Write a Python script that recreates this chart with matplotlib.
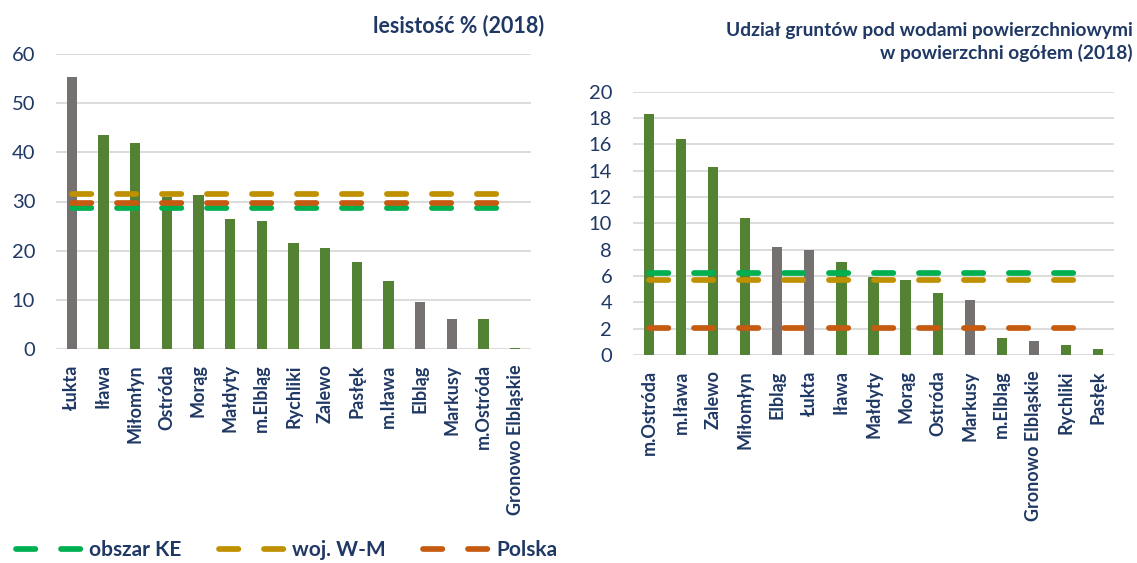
import matplotlib.pyplot as plt
from matplotlib.lines import Line2D

plt.rcParams['font.family'] = ['Lato', 'DejaVu Sans']

NAVY = '#1F3864'
BAR_GREEN = '#548235'
BAR_GREY = '#767171'
GRID = '#D9D9D9'
C_KE = '#00B050'
C_WM = '#BF9000'
C_PL = '#C55A11'

# lesistość % (2018)
forest_units = ['Łukta', 'Iława', 'Miłomłyn', 'Ostróda', 'Morąg', 'Małdyty', 'm.Elbląg',
                'Rychliki', 'Zalewo', 'Pasłęk', 'm.Iława', 'Elbląg', 'Markusy',
                'm.Ostróda', 'Gronowo Elbląskie']
forest_values = [55.3, 43.6, 41.8, 31.0, 31.3, 26.4, 26.1, 21.6, 20.6, 17.7, 13.8, 9.6, 6.1, 6.1, 0.3]
forest_grey = ['Łukta', 'Elbląg', 'Markusy']
forest_ke = 28.6
forest_wm = 31.5
forest_pl = 29.6

# udział gruntów pod wodami (2018)
water_units = ['m.Ostróda', 'm.Iława', 'Zalewo', 'Miłomłyn', 'Elbląg', 'Łukta', 'Iława',
               'Małdyty', 'Morąg', 'Ostróda', 'Markusy', 'm.Elbląg', 'Gronowo Elbląskie',
               'Rychliki', 'Pasłęk']
water_values = [18.3, 16.4, 14.3, 10.4, 8.2, 8.0, 7.1, 5.9, 5.7, 4.7, 4.2, 1.3, 1.05, 0.75, 0.45]
water_grey = ['Elbląg', 'Łukta', 'Markusy', 'Gronowo Elbląskie']
water_ke = 6.24
water_wm = 5.66
water_pl = 2.05

ref_labels = ['obszar KE', 'woj. W-M', 'Polska']
ref_colors = [C_KE, C_WM, C_PL]
DASH = (0, (3.4, 4.5))
LW = 4.1


def draw_panel(ax, units, values, grey, refs, ymax, step):
    x = list(range(len(units)))
    colors = [BAR_GREY if u in grey else BAR_GREEN for u in units]
    ax.bar(x, values, width=0.32, color=colors, zorder=2)
    for val, col in zip(refs, ref_colors):
        ax.plot([x[0], x[-1]], [val, val], color=col, lw=LW, linestyle=DASH,
                dash_capstyle='round', zorder=3)
    ax.set_xlim(-0.5, len(units) - 0.5)
    ax.set_ylim(0, ymax)
    ax.set_yticks(range(0, ymax + 1, step))
    ax.set_xticks(x)
    ax.set_xticklabels(units, rotation=90, fontsize=13, fontweight='bold', color=NAVY)
    ax.tick_params(axis='x', length=0, pad=11)
    ax.tick_params(axis='y', length=0, pad=15, labelsize=14.5, labelcolor=NAVY)
    ax.yaxis.grid(True, color=GRID, lw=1.3, zorder=0)
    ax.set_axisbelow(True)
    for s in ['top', 'right', 'left', 'bottom']:
        ax.spines[s].set_visible(False)


fig = plt.figure(figsize=(11.37, 5.63), dpi=100)

ax1 = fig.add_axes([56 / 1137, 214 / 563, 475 / 1137, 295 / 563])
draw_panel(ax1, forest_units, forest_values, forest_grey,
           [forest_ke, forest_wm, forest_pl], 60, 10)

ax2 = fig.add_axes([633 / 1137, 208 / 563, 481 / 1137, 263.3 / 563])
draw_panel(ax2, water_units, water_values, water_grey,
           [water_ke, water_wm, water_pl], 20, 2)

fig.text(544 / 1137, 1 - 26 / 563, 'lesistość % (2018)', ha='right', va='center',
         fontsize=15.5, fontweight='bold', color=NAVY)
fig.text(1133 / 1137, 1 - 42 / 563, 'Udział gruntów pod wodami powierzchniowymi\nw powierzchni ogółem (2018)',
         ha='right', va='center', fontsize=13.8, fontweight='bold', color=NAVY,
         multialignment='right', linespacing=1.35)

handles = [Line2D([0], [0], color=c, lw=LW, linestyle=DASH, dash_capstyle='round')
           for c in ref_colors]
fig.legend(handles, ref_labels, loc='lower left', bbox_to_anchor=(-0.002, -0.028), ncol=3,
           frameon=False, handlelength=3.1, handletextpad=0.4, columnspacing=1.8,
           prop={'size': 15, 'weight': 'bold'}, labelcolor=NAVY)

fig.savefig('out.png', dpi=100)
